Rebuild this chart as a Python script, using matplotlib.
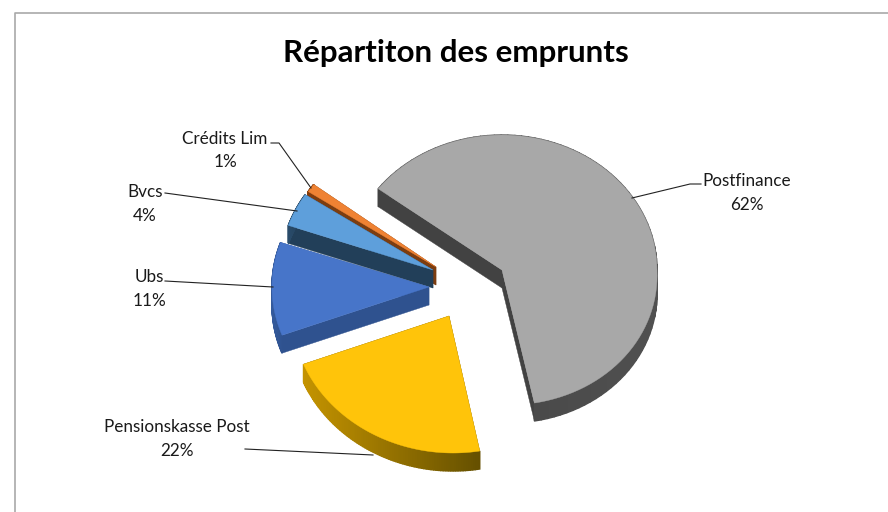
import numpy as np
import matplotlib
matplotlib.use("Agg")
import matplotlib.pyplot as plt
from matplotlib.colors import to_rgb
from matplotlib.patches import Polygon

title = "Répartiton des emprunts"
categories = ["Postfinance", "Pensionskasse Post", "Ubs", "Bvcs", "Crédits Lim"]
shares = [62, 22, 11, 4, 1]

# look of each slice, same order as categories
top_colors = ["#a8a8a8", "#ffc40a", "#4775c9", "#5e9fdb", "#ef8233"]
wall_colors = ["#424242", "#6b5000", "#2f528f", "#223f59", "#7c3d10"]
rim_left = ["#424242", "#c49300", "#345a9c", "#2a4c6b", "#843c0c"]
rim_right = ["#505050", "#655000", "#2f528f", "#223f59", "#843c0c"]
centers = [(502, 270), (449, 316), (429, 287), (433, 270), (436, 267)]
radii = [(155, 135), (157, 137), (157, 137), (153, 137), (153, 137)]
lean = [0.045, 0.03, 0, 0, 0]  # perspective skew of the part below the centre
draw_order = [0, 4, 3, 2, 1]
start_angle = 143
depth = 18

label_pos = [(747, 193), (177, 439), (149, 289), (145, 204), (225, 150.5)]
leaders = [
    [(632, 198), (690, 184), (701, 184)],
    [(245, 449), (373, 455)],
    [(165, 281), (273, 287)],
    [(165, 193), (297, 211)],
    [(271, 143), (279, 143), (311, 188)],
]


def arc_points(i, t0, t1, n=90):
    cx, cy = centers[i]
    a, b = radii[i]
    t = np.radians(np.linspace(t0, t1, n))
    y = cy - b * np.sin(t)
    x = cx + a * np.cos(t) + lean[i] * np.maximum(y - cy, 0)
    return np.column_stack([x, y])


def draw_slice(ax, i, t0, t1):
    pts = arc_points(i, t0, t1)
    down = np.array([0, depth])
    apex = np.array(centers[i], dtype=float)

    # radial walls
    for end in (pts[0], pts[-1]):
        wall = [apex, end, end + down, apex + down]
        ax.add_patch(Polygon(wall, fc=wall_colors[i], ec=wall_colors[i], lw=0.3, zorder=2))

    # outer rim, shaded along the arc
    lo = np.array(to_rgb(rim_left[i]))
    hi = np.array(to_rgb(rim_right[i]))
    x_min, x_max = pts[:, 0].min(), pts[:, 0].max()
    for a, b in zip(pts[:-1], pts[1:]):
        f = ((a[0] + b[0]) / 2 - x_min) / max(x_max - x_min, 1)
        col = lo + (hi - lo) * f
        ax.add_patch(Polygon([a, b, b + down, a + down], fc=col, ec=col, lw=1.0, zorder=2))

    ax.add_patch(Polygon(np.vstack([apex, pts]), fc=top_colors[i], ec=top_colors[i], lw=0.3, zorder=2))


fig = plt.figure(figsize=(8.88, 5.12), dpi=100)
ax = fig.add_axes([0, 0, 1, 1])
ax.set_xlim(0, 888)
ax.set_ylim(512, 0)
ax.axis("off")
plt.rcParams["font.family"] = ["Lato", "DejaVu Sans"]

# chart frame, cut off by the crop on the right and at the bottom
ax.plot([14.5, 14.5, 888], [512, 12.5, 12.5], color="#a9a9a9", lw=1.2, zorder=1)

edges = start_angle - np.cumsum([0] + shares) * 360 / sum(shares)
for i in draw_order:
    draw_slice(ax, i, edges[i], edges[i + 1])

for i, name in enumerate(categories):
    x, y = label_pos[i]
    ax.text(x, y, f"{name}\n{shares[i]}%", ha="center", va="center", fontsize=12.3,
            color="#1a1a1a", linespacing=1.55, zorder=4)
    xs, ys = zip(*leaders[i])
    ax.plot(xs, ys, color="#222222", lw=0.8, zorder=3)

ax.text(456, 53, title, ha="center", va="center", fontsize=22.6, fontweight="bold",
        color="black", zorder=4)

fig.savefig("out.png", dpi=100)
plt.close(fig)
